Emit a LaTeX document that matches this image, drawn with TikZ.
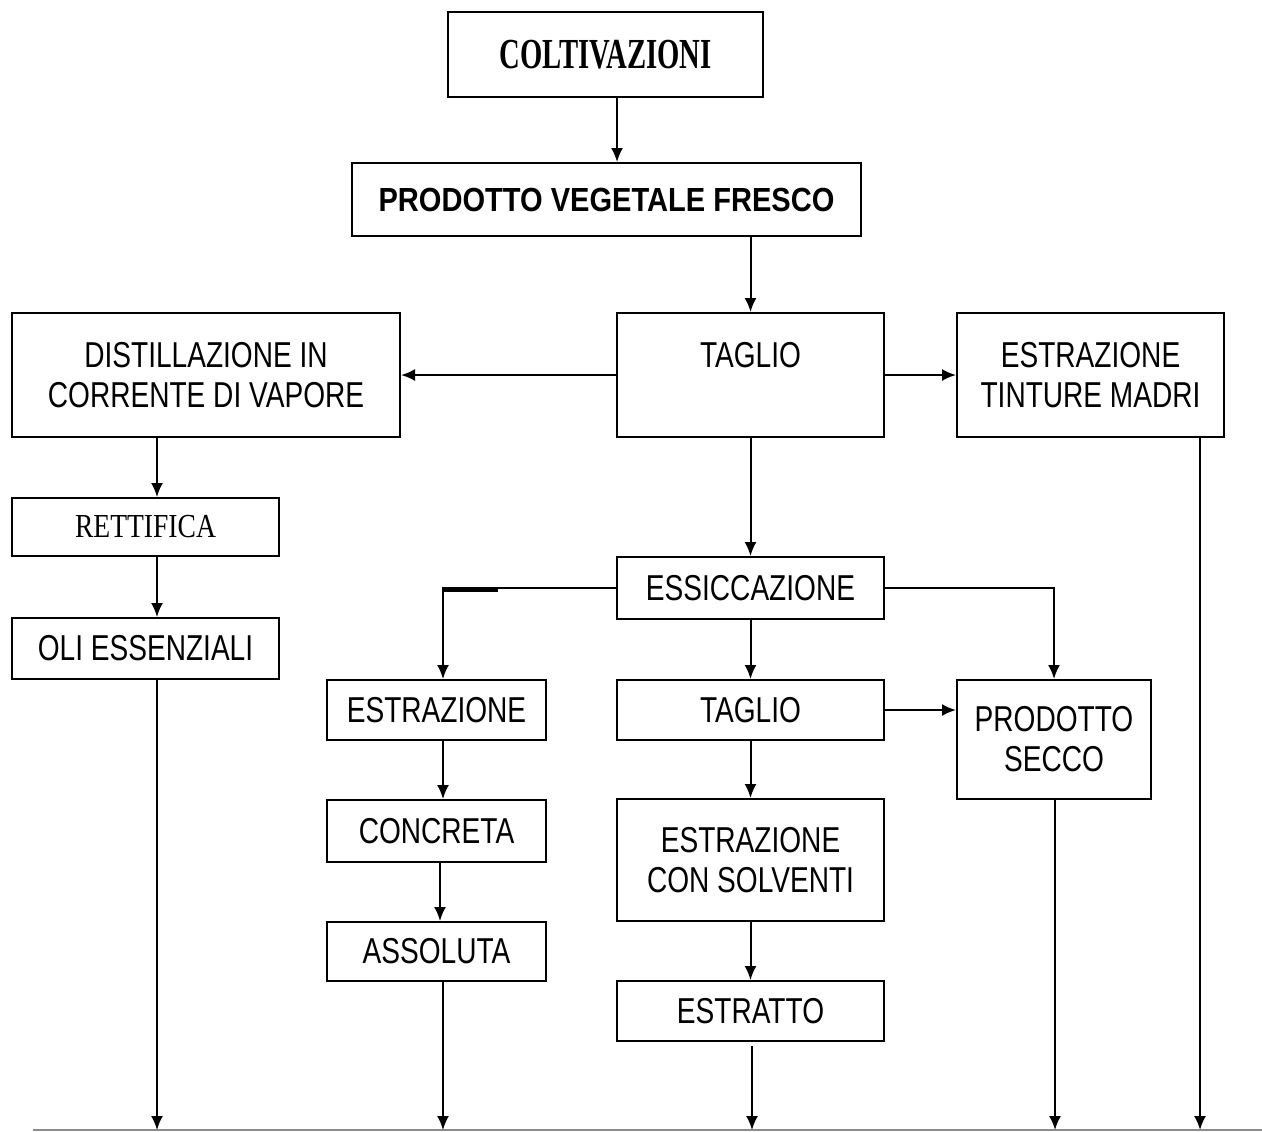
\documentclass[tikz,border=0pt]{standalone}
\usepackage{fontspec}
\setmainfont{Liberation Sans}
\newfontfamily\sansN{Liberation Sans}[FakeStretch=0.78]
\newfontfamily\sansB{Liberation Sans}[FakeStretch=0.87]
\newfontfamily\serifB{Liberation Serif}[FakeStretch=0.67]
\newfontfamily\serifR{Liberation Serif}[FakeStretch=0.82]
\usetikzlibrary{arrows.meta}
\begin{document}
\begin{tikzpicture}[x=0.5pt,y=-0.5pt,
  box/.style={draw, line width=1pt, inner sep=0pt, align=center,
    font=\sansN\fontsize{18}{20}\selectfont},
  arr/.style={line width=1pt, -{Latex[length=7pt,width=6pt]}},
  thickseg/.style={line width=2.5pt},
  baseline/.style={line width=1pt, black!45}]
\useasboundingbox (0,0) rectangle (1262,1131);
\fill[white] (0,0) rectangle (1262,1131);

% boxes
\node[box, minimum width=157.5pt, minimum height=42.5pt,
  font=\serifB\bfseries\fontsize{21.4}{24}\selectfont] (colt) at (605.5,54.5) {COLTIVAZIONI};
\node[box, minimum width=254.5pt, minimum height=36.5pt,
  font=\sansB\bfseries\fontsize{16.7}{20}\selectfont] (prod) at (606.5,199.5) {PRODOTTO VEGETALE FRESCO};
\node[box, minimum width=133.5pt, minimum height=62pt] (taglio1) at (750.5,375) {TAGLIO\\\mbox{}};
\node[box, minimum width=194pt, minimum height=62pt] (dist) at (206,375) {DISTILLAZIONE IN\\CORRENTE DI VAPORE};
\node[box, minimum width=133.5pt, minimum height=62pt] (tint) at (1090.5,375) {ESTRAZIONE\\TINTURE MADRI};
\node[box, minimum width=133.5pt, minimum height=29pt,
  font=\serifR\fontsize{16.8}{20}\selectfont] (rett) at (145.5,527) {RETTIFICA};
\node[box, minimum width=133.5pt, minimum height=30.5pt] (oli) at (145.5,648.5) {OLI ESSENZIALI};
\node[box, minimum width=133.5pt, minimum height=31pt] (essic) at (750.5,588) {ESSICCAZIONE};
\node[box, minimum width=109.5pt, minimum height=30pt] (estr) at (436.5,710) {ESTRAZIONE};
\node[box, minimum width=133.5pt, minimum height=30pt] (taglio2) at (750.5,710) {TAGLIO};
\node[box, minimum width=97pt, minimum height=59.5pt] (secco) at (1054,739.5) {PRODOTTO\\SECCO};
\node[box, minimum width=109.5pt, minimum height=31pt] (conc) at (436.5,831) {CONCRETA};
\node[box, minimum width=109.5pt, minimum height=29.5pt] (ass) at (436.5,951.5) {ASSOLUTA};
\node[box, minimum width=133.5pt, minimum height=61pt] (solv) at (750.5,860) {ESTRAZIONE\\CON SOLVENTI};
\node[box, minimum width=133.5pt, minimum height=30pt] (estratto) at (750.5,1011) {ESTRATTO};

% helper coordinates
\coordinate (xA) at (157,0);
\coordinate (xB) at (443,0);
\coordinate (xB2) at (440,0);
\coordinate (xBt) at (498,0);
\coordinate (xC) at (617,0);
\coordinate (xD) at (752,0);
\coordinate (xF) at (1055,0);
\coordinate (xE) at (1200,0);
\coordinate (bL) at (33,1130);
\coordinate (bR) at (1262,1130);
\coordinate (bA) at (157,1130);
\coordinate (bB) at (443,1130);
\coordinate (bD) at (752,1130);
\coordinate (bF) at (1055,1130);
\coordinate (bE) at (1200,1130);

% bottom line
\draw[baseline] (bL) -- (bR);

% connectors
\draw[arr] (colt.south -| xC) -- (prod.north -| xC);
\draw[arr] (prod.south -| taglio1.north) -- (taglio1.north);
\draw[arr] (taglio1.west) -- (dist.east);
\draw[arr] (taglio1.east) -- (tint.west);
\draw[arr] (dist.south -| xA) -- (rett.north -| xA);
\draw[arr] (rett.south -| xA) -- (oli.north -| xA);
\draw[arr] (oli.south -| xA) -- (bA);
\draw[arr] (taglio1.south) -- (essic.north);
\draw[arr] (essic.west) -| (estr.north -| xB);
\draw[thickseg] ([yshift=-0.75pt]essic.west -| xB) -- ([yshift=-0.75pt]essic.west -| xBt);
\draw[arr] (essic.east) -| (secco.north);
\draw[arr] (essic.south) -- (taglio2.north);
\draw[arr] (taglio2.east) -- (taglio2.east -| secco.west);
\draw[arr] (estr.south -| xB) -- (conc.north -| xB);
\draw[arr] (conc.south -| xB2) -- (ass.north -| xB2);
\draw[arr] (ass.south -| xB) -- (bB);
\draw[arr] (taglio2.south) -- (solv.north);
\draw[arr] (solv.south) -- (estratto.north);
\draw[arr] ([yshift=-2pt]estratto.south -| xD) -- (bD);
\draw[arr] (secco.south -| xF) -- (bF);
\draw[arr] (tint.south -| xE) -- (bE);
\end{tikzpicture}
\end{document}
